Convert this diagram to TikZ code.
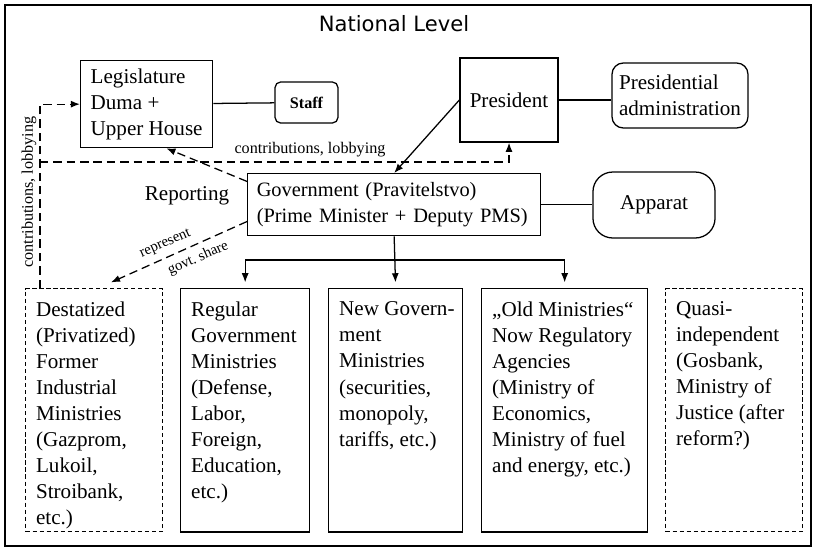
\documentclass[tikz,border=0pt]{standalone}
\usepackage{fontspec}
\setmainfont{Liberation Serif}
\newfontfamily\headfont{DejaVu Sans}
\usetikzlibrary{arrows.meta}
\newcommand\colbody[2]{\parbox[c][154pt][t]{#1}{\raggedright #2}}
\begin{document}
\begin{tikzpicture}[x=0.025cm,y=-0.025cm,line width=0.9pt,>={Latex[length=6.5pt,width=5pt]},
  txt/.style={font=\fontsize{15}{18.5}\selectfont},
  small/.style={font=\fontsize{11.5}{13}\selectfont},
  tiny/.style={font=\fontsize{10.5}{12}\selectfont,inner sep=1pt},
  box/.style={txt,draw,anchor=north west,inner xsep=7pt,inner ysep=0pt,align=left},
  colbox/.style={txt,draw,anchor=north west,inner xsep=7.5pt,inner ysep=9.5pt},
  dbox/.style={colbox,line width=0.8pt,dash pattern=on 3pt off 2pt},
  soft/.style={txt,draw,rounded corners=#1,align=left},
  lobby/.style={->,dash pattern=on 6pt off 3.5pt}]
\useasboundingbox(0,0)rectangle(814,548);
\draw(5,5)rectangle(811,546);
\node[font=\headfont\fontsize{15}{18}\selectfont](title)at(394,24){National Level};
% top row
\node[box,minimum width=93.9pt,minimum height=61.9pt](leg)at(80,60){Legislature\\Duma +\\Upper House};
\node[soft=4pt,font=\bfseries\fontsize{11.5}{13}\selectfont,minimum width=44.8pt,minimum height=29.2pt](staff)at(306.5,102.5){Staff};
\node[txt,draw,minimum width=69.7pt,minimum height=59.8pt](pres)at(509,100){President};
\node[soft=8pt,inner xsep=2pt,minimum width=96.7pt,minimum height=46.2pt](padm)at(680,95.5){Presidential\\administration};
\node[box,inner xsep=6.5pt,text width=195.4pt,minimum height=44.1pt,font=\fontsize{14.5}{19}\selectfont](gov)at(247,173){Government (Pravitelstvo)\\(Prime Minister + Deputy PMS)};
\node[soft=14pt,minimum width=86.8pt,minimum height=46.9pt](app)at(654,205){Apparat};
\node[txt](rep)at(187,196){Reporting};
% bottom row
\node[dbox](dest)at(25,288){\colbody{82.4pt}{Destatized\\(Privatized)\\Former\\Industrial\\Ministries\\(Gazprom,\\Lukoil,\\Stroibank,\\etc.)}};
\node[colbox](reg)at(180,288){\colbody{76.8pt}{Regular\\Government\\Ministries\\(Defense,\\Labor,\\Foreign,\\Education,\\etc.)}};
\node[colbox](newmin)at(328,288){\colbody{80.3pt}{\mbox{New Govern-}\\ment\\Ministries\\(securities,\\monopoly,\\tariffs, etc.)}};
\node[colbox](old)at(481,288){\colbody{103.1pt}{„Old Ministries“\\Now Regulatory\\Agencies\\(Ministry of\\Economics,\\Ministry of fuel\\and energy, etc.)}};
\node[dbox](quasi)at(665,288){\colbody{82.4pt}{Quasi-\\independent\\(Gosbank,\\Ministry of\\Justice (after\\reform?)}};
% connectors
\draw(leg)--(staff);
\draw(pres.east)--(pres.east-|padm.west);
\draw(gov.east)--(gov.east-|app.west);
\draw[->](pres.west)--(gov.north);
\draw[lobby]([yshift=-6pt]gov.north west)--([xshift=14pt]leg.south);
\draw[lobby]([yshift=-12pt]gov.west)--node[tiny,sloped,above=3.5pt,pos=0.56]{represent}node[tiny,sloped,below=3.5pt,pos=0.4]{govt.\ share}([xshift=12pt,yshift=4pt]dest.north);
\coordinate(lob)at(40,162);
\draw[lobby]([xshift=10.7pt]dest.north west)|-(leg.west);
\draw[lobby](lob)-|(pres.south);
\node[small,rotate=90](lobv)at(29,192){contributions, lobbying};
\node[small](lobh)at(310,150){contributions, lobbying};
\coordinate(split)at(393.5,260);
\draw[->,shorten >=4pt](gov.south)--(newmin.north);
\draw(reg.north|-split)--(old.north|-split);
\draw[->,shorten >=4pt](reg.north|-split)--(reg.north);
\draw[->,shorten >=4pt](old.north|-split)--(old.north);
\end{tikzpicture}
\end{document}
